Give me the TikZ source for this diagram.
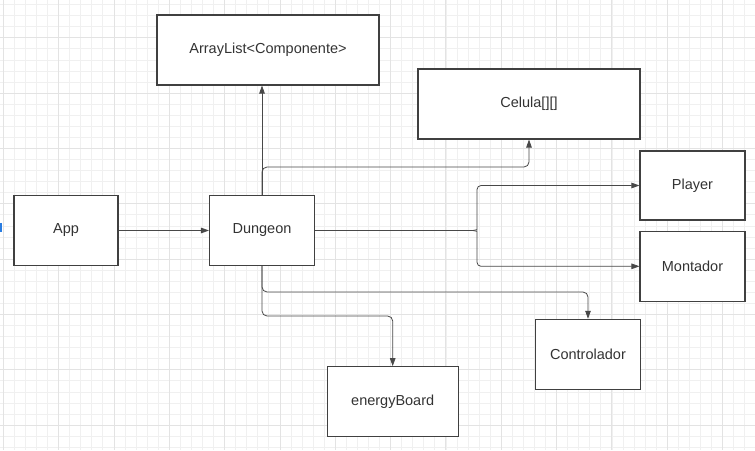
\documentclass[tikz,border=0pt]{standalone}
\usepackage{fontspec}
\setmainfont{Liberation Sans}
\usetikzlibrary{arrows.meta}
\definecolor{txtc}{HTML}{333333}
\definecolor{boxc}{HTML}{404040}
\definecolor{linec}{HTML}{484848}
\definecolor{gridminor}{HTML}{F0F0F0}
\definecolor{gridmajor}{HTML}{E3E3E3}
\definecolor{selblue}{HTML}{2A7DE1}
\tikzset{
  box/.style={draw=boxc,line width=1.05pt,fill=white,inner sep=0pt,
    text=txtc,font=\fontsize{14.5}{17}\selectfont},
  conn/.style={draw=linec,line width=0.8pt,rounded corners=5pt,
    -{Triangle[length=8pt,width=5.5pt]}},
  gminor/.style={draw=gridminor,line width=0.8pt},
  gmajor/.style={draw=gridmajor,line width=0.9pt}
}
\begin{document}
\begin{tikzpicture}[x=1pt,y=-1pt]
\useasboundingbox (0,0) rectangle (755,450);
\fill[white] (0,0) rectangle (755,450);
\begin{scope}
\clip (0,0) rectangle (755,450);
\foreach \i in {0,...,68} \draw[gminor] ({3.3+\i*11.066},0) -- ({3.3+\i*11.066},450);
\foreach \i in {0,...,40} \draw[gminor] (0,{4.6+\i*11.066}) -- (755,{4.6+\i*11.066});
\foreach \i in {0,...,13} \draw[gmajor] ({3.3+\i*55.33},0) -- ({3.3+\i*55.33},450);
\foreach \i in {0,...,8} \draw[gmajor] (0,{37.8+\i*55.33-55.33}) -- (755,{37.8+\i*55.33-55.33});
\end{scope}
\fill[selblue] (0,223) rectangle (2,232);

\node[box,minimum width=222pt,minimum height=70pt] (arr) at (268,50) {ArrayList<Componente>};
\node[box,minimum width=222pt,minimum height=70pt] (cel) at (529,104) {Celula[][]};
\node[box,minimum width=104pt,minimum height=70pt] (app) at (66,230.5) {App};
\node[box,minimum width=105pt,minimum height=70pt] (dung) at (262,230.5) {Dungeon};
\node[box,minimum width=105pt,minimum height=69pt] (play) at (692.5,185.5) {Player};
\node[box,minimum width=105pt,minimum height=70pt] (mont) at (692.5,266.3) {Montador};
\node[box,minimum width=104.5pt,minimum height=70pt] (ctrl) at (588,354.3) {Controlador};
\node[box,minimum width=130.7pt,minimum height=70pt] (eb) at (392.7,401.7) {energyBoard};

\coordinate (split) at (473,230.5);

\draw[conn] (app.east) -- (dung.west);
\draw[conn] (dung.north) -- (dung.north |- arr.south);
\draw[conn] (dung.north) -- (262,167) -- (529,167) -- (cel.south);
\draw[conn,-,rounded corners=0pt] (dung.east) -- (split);
\draw[conn,rounded corners=4pt] (split) .. controls (476,230.5) and (477,229) .. (477,226) -- (477,185.5) -- (play.west);
\draw[conn,rounded corners=4pt] (split) .. controls (476,230.5) and (477,232) .. (477,235) -- (477,266.3) -- (mont.west);
\draw[conn] (dung.south) -- (262,292) -- (588,292) -- (ctrl.north);
\draw[conn] (dung.south) -- (262,316) -- (392.7,316) -- (eb.north);
\end{tikzpicture}
\end{document}
